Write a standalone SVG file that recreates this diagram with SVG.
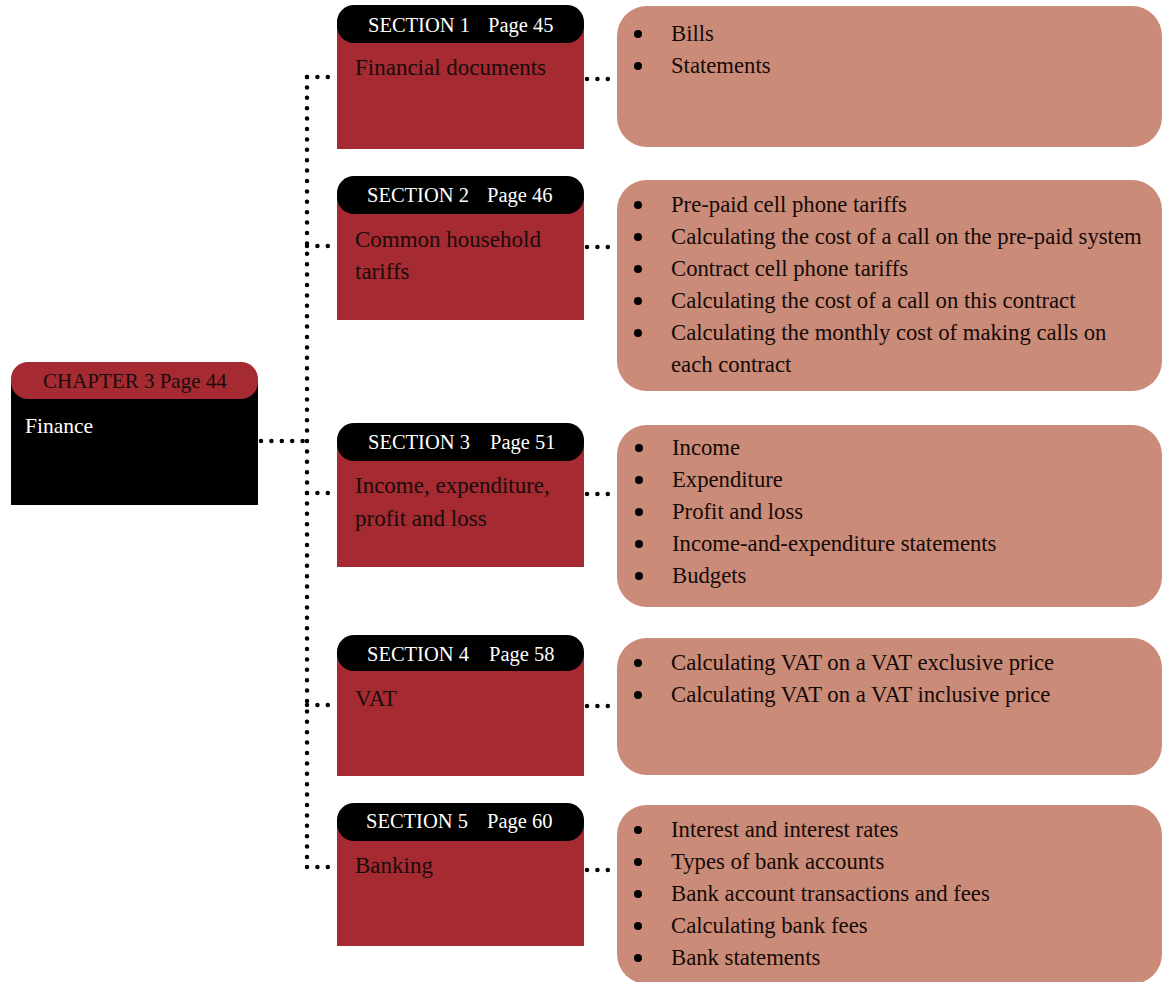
<svg xmlns="http://www.w3.org/2000/svg" width="1162" height="982" viewBox="0 0 1162 982">
<style>
.t{font-family:"Liberation Serif","Times New Roman",serif;}
.hd{font-size:20.5px;fill:#ffffff;}
.body{font-size:23px;fill:#1a0c0c;}
.li{font-size:22.7px;fill:#140a08;}
.red{fill:#a52a31;}
.pill{fill:#000000;}
.list{fill:#cb8b79;}
.dot{fill:#000000;}
.conn{fill:none;stroke:#000000;stroke-width:4.5;stroke-linecap:round;stroke-dasharray:0 10.4;}
</style>
<rect width="1162" height="982" fill="#ffffff"/>

<g id="connectors">
  <path class="conn" d="M307 77 V867"/>
  <path class="conn" d="M261 441 H307"/>
  <path class="conn" d="M307 77 H336"/>
  <path class="conn" d="M307 246 H336"/>
  <path class="conn" d="M307 493 H336"/>
  <path class="conn" d="M307 705 H336"/>
  <path class="conn" d="M307 867 H336"/>
  <path class="conn" d="M587 79 H618"/>
  <path class="conn" d="M587 247 H618"/>
  <path class="conn" d="M587 494 H618"/>
  <path class="conn" d="M587 706 H618"/>
  <path class="conn" d="M587 870 H618"/>
</g>

<g id="chapter">
  <rect x="11" y="381" width="247" height="124" fill="#000000"/>
  <rect x="11" y="362" width="247" height="37" rx="17" class="red"/>
  <text class="t" x="43" y="388" font-size="21" fill="#1a0c0c">CHAPTER 3 Page 44</text>
  <text class="t" x="25" y="433" font-size="21.5" fill="#ffffff">Finance</text>
</g>

<g id="section1">
  <rect x="337" y="25" width="247" height="124" class="red"/>
  <rect x="337" y="5" width="247" height="38" rx="17" class="pill"/>
  <text class="t hd" x="368" y="32">SECTION 1</text>
  <text class="t hd" x="488" y="32">Page 45</text>
  <text class="t body" x="355" y="75">Financial documents</text>
</g>
<g id="list1">
  <rect x="617" y="6" width="545" height="141" rx="30" class="list"/>
  <circle class="dot" cx="638" cy="34" r="4"/>
  <circle class="dot" cx="638" cy="66" r="4"/>
  <text class="t li" x="671" y="41">Bills</text>
  <text class="t li" x="671" y="73">Statements</text>
</g>

<g id="section2">
  <rect x="337" y="196" width="247" height="124" class="red"/>
  <rect x="337" y="176" width="247" height="38" rx="17" class="pill"/>
  <text class="t hd" x="367" y="202">SECTION 2</text>
  <text class="t hd" x="487" y="202">Page 46</text>
  <text class="t body" x="355" y="247">Common household</text>
  <text class="t body" x="355" y="279">tariffs</text>
</g>
<g id="list2">
  <rect x="617" y="180" width="545" height="211" rx="30" class="list"/>
  <circle class="dot" cx="638" cy="205" r="4"/>
  <circle class="dot" cx="638" cy="237" r="4"/>
  <circle class="dot" cx="638" cy="269" r="4"/>
  <circle class="dot" cx="638" cy="301" r="4"/>
  <circle class="dot" cx="638" cy="333" r="4"/>
  <text class="t li" x="671" y="212">Pre-paid cell phone tariffs</text>
  <text class="t li" x="671" y="244">Calculating the cost of a call on the pre-paid system</text>
  <text class="t li" x="671" y="276">Contract cell phone tariffs</text>
  <text class="t li" x="671" y="308">Calculating the cost of a call on this contract</text>
  <text class="t li" x="671" y="340">Calculating the monthly cost of making calls on</text>
  <text class="t li" x="671" y="372">each contract</text>
</g>

<g id="section3">
  <rect x="337" y="443" width="247" height="124" class="red"/>
  <rect x="337" y="423" width="247" height="38" rx="17" class="pill"/>
  <text class="t hd" x="368" y="449">SECTION 3</text>
  <text class="t hd" x="490" y="449">Page 51</text>
  <text class="t body" x="355" y="493">Income, expenditure,</text>
  <text class="t body" x="355" y="526">profit and loss</text>
</g>
<g id="list3">
  <rect x="617" y="425" width="545" height="182" rx="30" class="list"/>
  <circle class="dot" cx="639" cy="448" r="4"/>
  <circle class="dot" cx="639" cy="480" r="4"/>
  <circle class="dot" cx="639" cy="512" r="4"/>
  <circle class="dot" cx="639" cy="544" r="4"/>
  <circle class="dot" cx="639" cy="576" r="4"/>
  <text class="t li" x="672" y="455">Income</text>
  <text class="t li" x="672" y="487">Expenditure</text>
  <text class="t li" x="672" y="519">Profit and loss</text>
  <text class="t li" x="672" y="551">Income-and-expenditure statements</text>
  <text class="t li" x="672" y="583">Budgets</text>
</g>

<g id="section4">
  <rect x="337" y="654" width="247" height="122" class="red"/>
  <rect x="337" y="635" width="247" height="36" rx="17" class="pill"/>
  <text class="t hd" x="367" y="661">SECTION 4</text>
  <text class="t hd" x="489" y="661">Page 58</text>
  <text class="t body" x="355" y="706">VAT</text>
</g>
<g id="list4">
  <rect x="617" y="638" width="545" height="137" rx="30" class="list"/>
  <circle class="dot" cx="638" cy="663" r="4"/>
  <circle class="dot" cx="638" cy="695" r="4"/>
  <text class="t li" x="671" y="670">Calculating VAT on a VAT exclusive price</text>
  <text class="t li" x="671" y="702">Calculating VAT on a VAT inclusive price</text>
</g>

<g id="section5">
  <rect x="337" y="822" width="247" height="124" class="red"/>
  <rect x="337" y="803" width="247" height="38" rx="17" class="pill"/>
  <text class="t hd" x="366" y="828">SECTION 5</text>
  <text class="t hd" x="487" y="828">Page 60</text>
  <text class="t body" x="355" y="873">Banking</text>
</g>
<g id="list5">
  <rect x="617" y="805" width="545" height="179" rx="30" class="list"/>
  <circle class="dot" cx="638" cy="830" r="4"/>
  <circle class="dot" cx="638" cy="862" r="4"/>
  <circle class="dot" cx="638" cy="894" r="4"/>
  <circle class="dot" cx="638" cy="926" r="4"/>
  <circle class="dot" cx="638" cy="958" r="4"/>
  <text class="t li" x="671" y="837">Interest and interest rates</text>
  <text class="t li" x="671" y="869">Types of bank accounts</text>
  <text class="t li" x="671" y="901">Bank account transactions and fees</text>
  <text class="t li" x="671" y="933">Calculating bank fees</text>
  <text class="t li" x="671" y="965">Bank statements</text>
</g>
</svg>
